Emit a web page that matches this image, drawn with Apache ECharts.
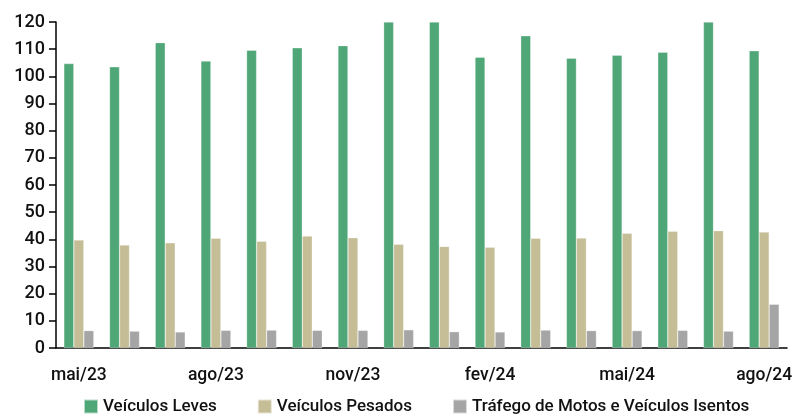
<!DOCTYPE html>
<html><head><meta charset="utf-8">
<script src="https://cdn.jsdelivr.net/npm/echarts@6/dist/echarts.min.js"></script>
<style>html,body{margin:0;padding:0;background:#fff}#c{width:795px;height:415px}</style>
</head><body><div id="c"></div>
<script>
const categories = ['mai/23','jun/23','jul/23','ago/23','set/23','out/23','nov/23','dez/23','jan/24','fev/24','mar/24','abr/24','mai/24','jun/24','jul/24','ago/24'];
const leves = [104.7,103.5,112.4,105.6,109.6,110.5,111.3,120,120,107.0,114.9,106.7,107.8,108.9,120,109.4];
const pesados = [39.8,37.9,38.7,40.4,39.3,41.2,40.6,38.2,37.4,37.1,40.4,40.5,42.2,43.0,43.2,42.7];
const motos = [6.4,6.2,5.9,6.5,6.6,6.5,6.5,6.7,6.0,5.9,6.6,6.4,6.4,6.5,6.2,16.1];
const seriesNames = ['Veículos Leves','Veículos Pesados','Tráfego de Motos e Veículos Isentos'];
const colors = ['#4fa677','#c4bd96','#a5a5a5'];
const font = 'Roboto';
const chart = echarts.init(document.getElementById('c'));
const mk = (name, data, color) => ({
  name, type:'bar', data, barWidth:10, barGap:'0%',
  itemStyle:{color, borderColor:'rgba(255,255,255,0.6)', borderWidth:0.5},
  animation:false
});
chart.setOption({
  animation:false,
  textStyle:{fontFamily:font},
  grid:{left:56,right:3,top:22,bottom:67,containLabel:false},
  legend:{top:398,left:83,padding:0,itemWidth:14,itemHeight:14,itemGap:40,icon:'rect',
    textStyle:{fontFamily:font,fontSize:17,fontWeight:500,color:'#111'},
    data:seriesNames},
  xAxis:{type:'category',data:categories,
    axisLine:{lineStyle:{color:'#000',width:1.5}},
    axisTick:{interval:0,length:7,lineStyle:{color:'#000',width:1.5}},
    axisLabel:{interval:2,margin:19,fontSize:17.5,fontWeight:500,color:'#111',fontFamily:font}},
  yAxis:{type:'value',min:0,max:120,interval:10,
    axisLine:{show:true,lineStyle:{color:'#000',width:1.5}},
    axisTick:{show:true,length:7,lineStyle:{color:'#000',width:1.5}},
    splitLine:{show:false},
    axisLabel:{margin:11,fontSize:18,fontWeight:500,color:'#111',fontFamily:font}},
  series:[mk(seriesNames[0],leves,colors[0]),mk(seriesNames[1],pesados,colors[1]),mk(seriesNames[2],motos,colors[2])]
});
</script></body></html>
